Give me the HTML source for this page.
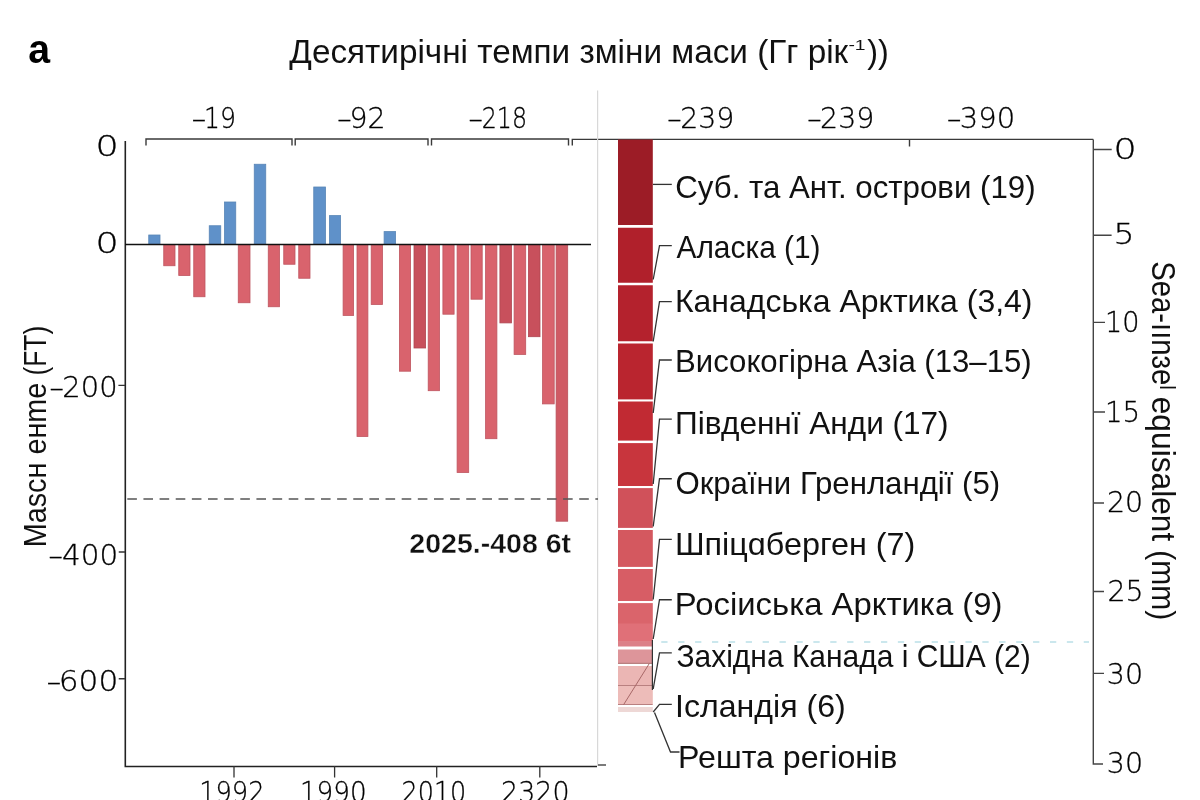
<!DOCTYPE html>
<html><head><meta charset="utf-8"><title>chart</title>
<style>
html,body{margin:0;padding:0;background:#fff;width:1200px;height:800px;overflow:hidden}
svg{display:block}
text{font-family:"Liberation Sans","Noto Sans CJK SC",sans-serif;fill:#111}
.lb{font-size:30.5px;fill:#111}
.tk{font-family:"DejaVu Sans",sans-serif;font-weight:200;font-size:28.2px;fill:#000;stroke:#000;stroke-width:0.3px}
.ld{stroke:#333;stroke-width:1.3;fill:none}
.ax{stroke:#222;stroke-width:1.6;fill:none}
.br{stroke:#3a3a3a;stroke-width:1.4;fill:none}
</style></head><body>
<svg width="1200" height="800" viewBox="0 0 1200 800">
<rect width="1200" height="800" fill="#fff"/>
<text x="28.32" y="62.50" textLength="21.83" lengthAdjust="spacingAndGlyphs" style="font-size:41px;font-weight:bold;fill:#000">a</text>
<text x="289.33" y="63.40" textLength="558.85" lengthAdjust="spacingAndGlyphs" style="font-size:33px">Десятирічні темпи зміни маси (Гг рік</text>
<text x="848.43" y="50.00" textLength="17.12" lengthAdjust="spacingAndGlyphs" style="font-size:14px">-1</text>
<text x="867.14" y="63.40" textLength="21.54" lengthAdjust="spacingAndGlyphs" style="font-size:33px">))</text>
<path class="br" d="M146,145.5 V139 H292 V145.5 M295.2,145.5 V139 H428 V145.5 M431.5,145.5 V139 H568.5 V145.5 M572.3,145.5 V139.4 H1093.3 M909.5,139.4 V146.5"/>
<line x1="597.6" y1="90.5" x2="597.6" y2="766" stroke="#d8d8d8" stroke-width="1.2"/>
<path class="ax" d="M125.3,141 V766.5 H597"/>
<line x1="598" y1="765" x2="606" y2="765" stroke="#333" stroke-width="1.3"/>
<path stroke="#333" stroke-width="1.3" d="M118.4,385.4 H125 M118.75,552 H125 M118.75,678.75 H125 M234,766 V777.5 M334.6,766 V777.5 M436.7,766 V777.5 M539.8,766 V777.5"/>
<text x="191.81" y="127.60" textLength="14.37" lengthAdjust="spacingAndGlyphs" class="tk">–</text>
<text x="203.99" y="127.60" textLength="31.96" lengthAdjust="spacingAndGlyphs" class="tk">19</text>
<text x="337.26" y="128.10" textLength="14.37" lengthAdjust="spacingAndGlyphs" class="tk">–</text>
<text x="349.50" y="128.10" textLength="36.10" lengthAdjust="spacingAndGlyphs" class="tk">92</text>
<text x="468.46" y="128.10" textLength="14.37" lengthAdjust="spacingAndGlyphs" class="tk">–</text>
<text x="481.74" y="128.10" textLength="45.28" lengthAdjust="spacingAndGlyphs" class="tk">218</text>
<text x="667.26" y="127.80" textLength="14.37" lengthAdjust="spacingAndGlyphs" class="tk">–</text>
<text x="680.21" y="127.80" textLength="54.16" lengthAdjust="spacingAndGlyphs" class="tk">239</text>
<text x="807.16" y="127.80" textLength="14.37" lengthAdjust="spacingAndGlyphs" class="tk">–</text>
<text x="820.11" y="127.80" textLength="54.16" lengthAdjust="spacingAndGlyphs" class="tk">239</text>
<text x="947.06" y="127.80" textLength="14.37" lengthAdjust="spacingAndGlyphs" class="tk">–</text>
<text x="959.83" y="127.80" textLength="55.35" lengthAdjust="spacingAndGlyphs" class="tk">390</text>
<text x="95.62" y="156.30" textLength="23.21" lengthAdjust="spacingAndGlyphs" class="tk">0</text>
<text x="95.62" y="253.10" textLength="23.21" lengthAdjust="spacingAndGlyphs" class="tk">0</text>
<text x="49.46" y="396.90" textLength="14.37" lengthAdjust="spacingAndGlyphs" class="tk">–</text>
<text x="62.38" y="396.90" textLength="55.19" lengthAdjust="spacingAndGlyphs" class="tk">200</text>
<text x="48.56" y="564.50" textLength="14.37" lengthAdjust="spacingAndGlyphs" class="tk">–</text>
<text x="62.03" y="564.50" textLength="56.08" lengthAdjust="spacingAndGlyphs" class="tk">400</text>
<text x="46.81" y="691.25" textLength="14.37" lengthAdjust="spacingAndGlyphs" class="tk">–</text>
<text x="58.79" y="691.25" textLength="59.48" lengthAdjust="spacingAndGlyphs" class="tk">600</text>
<text x="199.17" y="802.20" textLength="65.40" lengthAdjust="spacingAndGlyphs" class="tk">1992</text>
<text x="299.92" y="802.20" textLength="66.75" lengthAdjust="spacingAndGlyphs" class="tk">1990</text>
<text x="401.52" y="802.20" textLength="64.77" lengthAdjust="spacingAndGlyphs" class="tk">2010</text>
<text x="501.12" y="802.20" textLength="68.40" lengthAdjust="spacingAndGlyphs" class="tk">2320</text>
<text x="1113.62" y="158.90" textLength="23.21" lengthAdjust="spacingAndGlyphs" class="tk">0</text>
<text x="1113.61" y="244.30" textLength="20.96" lengthAdjust="spacingAndGlyphs" class="tk">5</text>
<text x="1105.02" y="332.40" textLength="34.49" lengthAdjust="spacingAndGlyphs" class="tk">10</text>
<text x="1104.96" y="422.40" textLength="35.15" lengthAdjust="spacingAndGlyphs" class="tk">15</text>
<text x="1107.01" y="512.00" textLength="36.11" lengthAdjust="spacingAndGlyphs" class="tk">20</text>
<text x="1107.52" y="601.40" textLength="36.07" lengthAdjust="spacingAndGlyphs" class="tk">25</text>
<text x="1106.86" y="683.60" textLength="36.27" lengthAdjust="spacingAndGlyphs" class="tk">30</text>
<text x="1106.86" y="773.00" textLength="36.27" lengthAdjust="spacingAndGlyphs" class="tk">30</text>
<text transform="translate(45.6,547.30) rotate(-90)" style="font-size:30.7px;" textLength="164.66" lengthAdjust="spacingAndGlyphs">Mascн eнme</text>
<text transform="translate(45.6,375.58) rotate(-90)" style="font-size:30.7px;" textLength="49.74" lengthAdjust="spacingAndGlyphs">(FT)</text>
<rect x="148.75" y="235.00" width="11.25" height="9.50" fill="#5f91c9" stroke="#5885b6" stroke-width="0.8"/>
<rect x="163.75" y="244.50" width="11.25" height="21.25" fill="#d9636d" stroke="#bf5560" stroke-width="0.8"/>
<rect x="178.75" y="244.50" width="11.25" height="31.00" fill="#d9636d" stroke="#bf5560" stroke-width="0.8"/>
<rect x="193.75" y="244.50" width="11.25" height="52.25" fill="#d9636d" stroke="#bf5560" stroke-width="0.8"/>
<rect x="209.25" y="225.75" width="11.50" height="18.75" fill="#5f91c9" stroke="#5885b6" stroke-width="0.8"/>
<rect x="224.50" y="202.00" width="11.25" height="42.50" fill="#5f91c9" stroke="#5885b6" stroke-width="0.8"/>
<rect x="238.25" y="244.50" width="11.75" height="58.25" fill="#d9636d" stroke="#bf5560" stroke-width="0.8"/>
<rect x="254.25" y="164.25" width="11.50" height="80.25" fill="#5f91c9" stroke="#5885b6" stroke-width="0.8"/>
<rect x="268.25" y="244.50" width="11.25" height="62.25" fill="#d9636d" stroke="#bf5560" stroke-width="0.8"/>
<rect x="283.75" y="244.50" width="11.25" height="19.75" fill="#d9636d" stroke="#bf5560" stroke-width="0.8"/>
<rect x="298.75" y="244.50" width="11.25" height="33.75" fill="#d9636d" stroke="#bf5560" stroke-width="0.8"/>
<rect x="313.75" y="187.00" width="11.75" height="57.50" fill="#5f91c9" stroke="#5885b6" stroke-width="0.8"/>
<rect x="329.40" y="215.60" width="11.20" height="28.90" fill="#5f91c9" stroke="#5885b6" stroke-width="0.8"/>
<rect x="343.10" y="244.50" width="10.50" height="70.90" fill="#d9636d" stroke="#bf5560" stroke-width="0.8"/>
<rect x="357.00" y="244.50" width="10.90" height="192.00" fill="#d9636d" stroke="#bf5560" stroke-width="0.8"/>
<rect x="371.20" y="244.50" width="11.30" height="60.00" fill="#d9636d" stroke="#bf5560" stroke-width="0.8"/>
<rect x="384.10" y="231.60" width="11.50" height="12.90" fill="#5f91c9" stroke="#5885b6" stroke-width="0.8"/>
<rect x="399.40" y="244.50" width="11.20" height="126.70" fill="#d9636d" stroke="#bf5560" stroke-width="0.8"/>
<rect x="414.00" y="244.50" width="11.60" height="103.50" fill="#c8505c" stroke="#b04652" stroke-width="0.8"/>
<rect x="428.20" y="244.50" width="11.30" height="146.20" fill="#d9636d" stroke="#bf5560" stroke-width="0.8"/>
<rect x="442.90" y="244.50" width="11.20" height="69.70" fill="#d9636d" stroke="#bf5560" stroke-width="0.8"/>
<rect x="457.10" y="244.50" width="11.60" height="228.00" fill="#d9636d" stroke="#bf5560" stroke-width="0.8"/>
<rect x="471.00" y="244.50" width="11.20" height="54.70" fill="#d9636d" stroke="#bf5560" stroke-width="0.8"/>
<rect x="485.60" y="244.50" width="11.30" height="194.20" fill="#d9636d" stroke="#bf5560" stroke-width="0.8"/>
<rect x="499.90" y="244.50" width="11.60" height="78.40" fill="#c8505c" stroke="#b04652" stroke-width="0.8"/>
<rect x="514.10" y="244.50" width="11.60" height="109.90" fill="#d9636d" stroke="#bf5560" stroke-width="0.8"/>
<rect x="528.40" y="244.50" width="11.60" height="92.20" fill="#c8505c" stroke="#b04652" stroke-width="0.8"/>
<rect x="542.60" y="244.50" width="11.60" height="159.40" fill="#d9636d" stroke="#bf5560" stroke-width="0.8"/>
<rect x="556.10" y="244.50" width="11.60" height="276.70" fill="#d05a64" stroke="#b8505a" stroke-width="0.8"/>
<line x1="125" y1="244.5" x2="591" y2="244.5" stroke="#111" stroke-width="1.6"/>
<line x1="127.3" y1="499" x2="598" y2="499" stroke="#555" stroke-width="1.5" stroke-dasharray="9.6 6.54"/>
<text x="409.30" y="553.00" textLength="161.82" lengthAdjust="spacingAndGlyphs" style="font-size:27.7px;font-weight:bold;stroke:#fff;stroke-width:0.35px">2025.-408 6t</text>
<rect x="618" y="139.5" width="34.8" height="85.50" fill="#9c1c26"/>
<rect x="618" y="227.75" width="34.8" height="55.00" fill="#b0202b"/>
<rect x="618" y="285.25" width="34.8" height="56.00" fill="#b4222d"/>
<rect x="618" y="343.5" width="34.8" height="55.90" fill="#ba252f"/>
<rect x="618" y="401.5" width="34.8" height="39.10" fill="#c12a33"/>
<rect x="618" y="443.1" width="34.8" height="42.90" fill="#c8353d"/>
<rect x="618" y="488.1" width="34.8" height="39.80" fill="#d0515a"/>
<rect x="618" y="530" width="34.8" height="36.90" fill="#d4585f"/>
<rect x="618" y="569" width="34.8" height="32.00" fill="#d75d65"/>
<rect x="618" y="603.1" width="34.8" height="21.00" fill="#da646b"/>
<rect x="618" y="623.5" width="34.8" height="18.35" fill="#e07078"/>
<rect x="618" y="641.25" width="34.8" height="5.25" fill="#dc8088"/>
<rect x="618" y="649.5" width="34.8" height="14.30" fill="#dd959a"/>
<rect x="618" y="666" width="34.8" height="20.10" fill="#ebb6b4"/>
<rect x="618" y="685.5" width="34.8" height="19.30" fill="#edbcb9"/>
<rect x="618" y="707" width="34.8" height="5.00" fill="#eed8d6"/>
<path d="M618,663.4 H652.6 M618,685.5 H652.6 M618,704.5 H652.6" stroke="#b98080" stroke-width="1.1" fill="none"/>
<line x1="623.6" y1="704.7" x2="649.4" y2="663.4" stroke="#a86868" stroke-width="1"/>
<line x1="652.4" y1="640" x2="652.4" y2="690" stroke="#333" stroke-width="1.2"/>
<line x1="661.25" y1="642" x2="1089" y2="642" stroke="#98cfdc" stroke-width="1.2" stroke-dasharray="6.3 10.6"/>
<text x="675.24" y="197.80" textLength="360.41" lengthAdjust="spacingAndGlyphs" class="lb">Суб. та Ант. острови (19)</text>
<line x1="653" y1="184.4" x2="671.8" y2="184.4" class="ld"/>
<text x="676.50" y="258.20" textLength="144.06" lengthAdjust="spacingAndGlyphs" class="lb">Аласка (1)</text>
<polyline points="653.2,279.5 659.5,245.6 671.8,245.6" class="ld"/>
<text x="674.94" y="311.80" textLength="357.58" lengthAdjust="spacingAndGlyphs" class="lb">Канадська Арктика (3,4)</text>
<polyline points="653.2,341.5 659.5,301.6 671.8,301.6" class="ld"/>
<text x="675.01" y="371.50" textLength="356.69" lengthAdjust="spacingAndGlyphs" class="lb">Високогірна Азіа (13–15)</text>
<polyline points="653.2,413 659.5,360 671.8,360" class="ld"/>
<text x="674.98" y="434.40" textLength="273.62" lengthAdjust="spacingAndGlyphs" class="lb">Південнї Анди (17)</text>
<polyline points="653.2,484 659.5,419.2 671.8,419.2" class="ld"/>
<text x="675.40" y="494.20" textLength="324.82" lengthAdjust="spacingAndGlyphs" class="lb">Окраїни Гренландії (5)</text>
<polyline points="653.2,526.5 659.5,478.75 671.8,478.75" class="ld"/>
<text x="674.91" y="555.30" textLength="240.46" lengthAdjust="spacingAndGlyphs" class="lb">Шпіцɑберген (7)</text>
<polyline points="653.2,599.5 659.5,539.4 671.8,539.4" class="ld"/>
<text x="674.87" y="614.80" textLength="327.62" lengthAdjust="spacingAndGlyphs" class="lb">Росіиська Арктика (9)</text>
<polyline points="653.2,639 659.5,599.75 671.8,599.75" class="ld"/>
<text x="676.45" y="666.80" textLength="354.32" lengthAdjust="spacingAndGlyphs" class="lb">Західна Канада і США (2)</text>
<polyline points="653.2,689 659.5,652.9 671.8,652.9" class="ld"/>
<text x="675.11" y="716.90" textLength="170.58" lengthAdjust="spacingAndGlyphs" class="lb">Ісландія (6)</text>
<polyline points="653.2,712 659.5,704.4 671.8,704.4" class="ld"/>
<text x="678.03" y="768.20" textLength="219.27" lengthAdjust="spacingAndGlyphs" class="lb">Решта регіонів</text>
<polyline points="654.5,712.5 670.5,752 679.5,752" class="ld"/>
<path stroke="#444" stroke-width="1.4" fill="none" d="M1093.3,139.4 V764 H1103 M1093.3,149.5 H1111.7 M1093.3,235.2 H1111.6 M1093.3,322.4 H1105 M1093.3,412 H1105 M1093.3,503 H1104 M1093.3,591.5 H1104 M1093.3,673.4 H1104"/>
<text transform="translate(1152,261.18) rotate(90)" style="font-size:32.5px;" textLength="128.67" lengthAdjust="spacingAndGlyphs">Sea-ıınɜeˡ</text>
<text transform="translate(1152,396.73) rotate(90)" style="font-size:32.5px;" textLength="144.56" lengthAdjust="spacingAndGlyphs">equisalent</text>
<text transform="translate(1152,550.20) rotate(90)" style="font-size:32.5px;" textLength="69.97" lengthAdjust="spacingAndGlyphs">(mm)</text>
</svg>
</body></html>
